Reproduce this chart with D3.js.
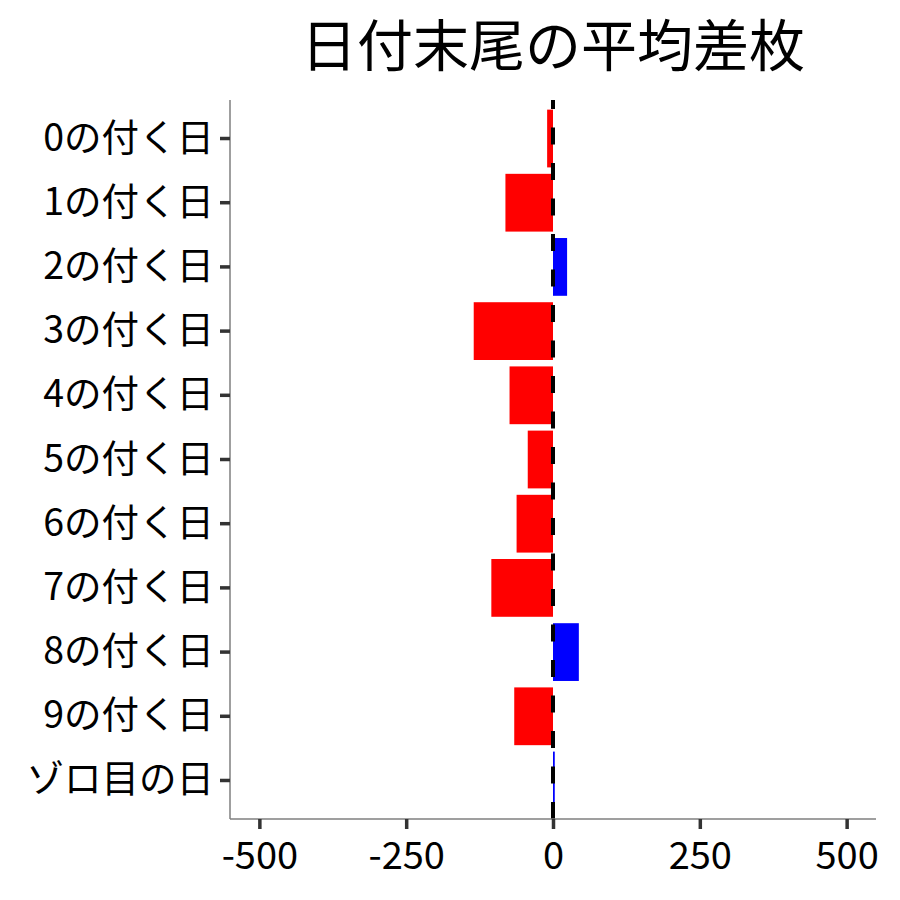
<!DOCTYPE html>
<html>
<head>
<meta charset="utf-8">
<script src="https://cdn.jsdelivr.net/npm/d3@7"></script>
<style>
  html, body { margin: 0; padding: 0; background: #fff; }
  svg { display: block; }
  text { font-family: "Noto Sans CJK JP", "Noto Sans", sans-serif; fill: #000; }
</style>
</head>
<body>
<svg id="chart" width="900" height="900"></svg>
<script>
// ---- data ----
const categories = ["0の付く日","1の付く日","2の付く日","3の付く日","4の付く日","5の付く日","6の付く日","7の付く日","8の付く日","9の付く日","ゾロ目の日"];
const values = [-10, -81, 24, -135, -74, -43, -62, -105, 44, -66, 3];
const xTicks = [-500, -250, 0, 250, 500];
const title = "日付末尾の平均差枚";

// ---- layout ----
const W = 900, H = 900;
const panel = { left: 230, right: 876, top: 100, bottom: 819 };

const svg = d3.select("#chart");

const x = d3.scaleLinear().domain([-550, 550]).range([panel.left, panel.right]);
const y = d3.scaleBand().domain(categories).range([panel.top, panel.bottom])
  .paddingInner(0.1).paddingOuter(0.15);

const data = categories.map((c, i) => ({ cat: c, val: values[i] }));

// bars
svg.append("g").selectAll("rect").data(data).join("rect")
  .attr("x", d => x(Math.min(0, d.val)))
  .attr("width", d => Math.abs(x(d.val) - x(0)))
  .attr("y", d => y(d.cat))
  .attr("height", y.bandwidth())
  .attr("fill", d => d.val < 0 ? "#FF0000" : "#0000FF");

// dashed zero line (drawn from bottom to top so the pattern starts at the bottom)
svg.append("line")
  .attr("x1", x(0)).attr("x2", x(0))
  .attr("y1", panel.bottom).attr("y2", panel.top)
  .attr("stroke", "#000").attr("stroke-width", 4)
  .attr("stroke-dasharray", "17 18.5");

// x axis
const xAxis = d3.axisBottom(x).tickValues(xTicks).tickSize(10).tickPadding(13).tickFormat(d3.format("d"));
const gx = svg.append("g").attr("transform", `translate(0,${panel.bottom})`).call(xAxis);
gx.attr("font-family", null).attr("font-size", null);
gx.select(".domain").attr("stroke", "#7f7f7f").attr("stroke-width", 1.5)
  .attr("d", `M${panel.left},0H${panel.right}`);
gx.selectAll(".tick line").attr("stroke", "#333").attr("stroke-width", 3.5);
gx.selectAll(".tick text").style("font-size", "38px").attr("fill", "#000")
  .text(d => d < 0 ? "-" + Math.abs(d) : d);

// y axis
const yAxis = d3.axisLeft(y).tickSize(10).tickPadding(6);
const gy = svg.append("g").attr("transform", `translate(${panel.left},0)`).call(yAxis);
gy.attr("font-family", null).attr("font-size", null);
gy.select(".domain").attr("stroke", "#7f7f7f").attr("stroke-width", 1.5)
  .attr("d", `M0,${panel.top}V${panel.bottom}`);
gy.selectAll(".tick line").attr("stroke", "#333").attr("stroke-width", 3.5);
gy.selectAll(".tick text").style("font-size", "37.5px").attr("fill", "#000");

// title
svg.append("text")
  .attr("x", (panel.left + panel.right) / 2)
  .attr("y", 66)
  .attr("text-anchor", "middle")
  .style("font-size", "56px")
  .text(title);
</script>
</body>
</html>
